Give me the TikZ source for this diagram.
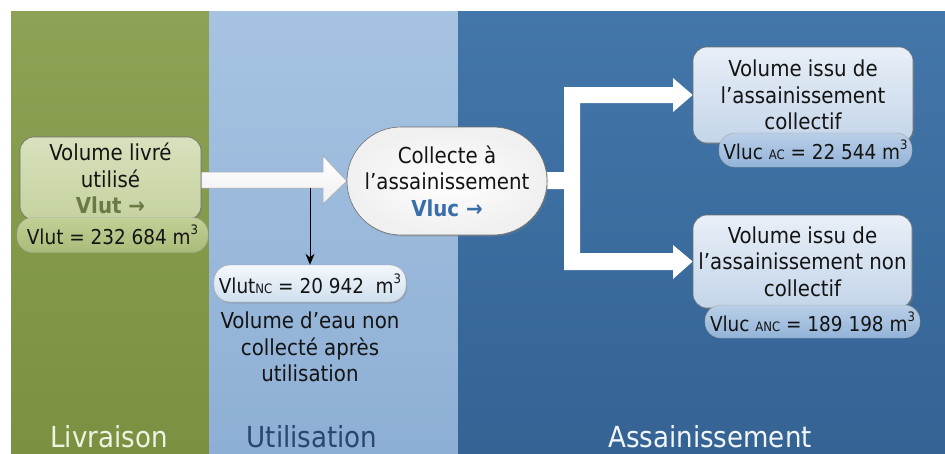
\documentclass[tikz,border=0pt]{standalone}
\usepackage{fontspec}
\setmainfont{DejaVu Sans Condensed}
\usetikzlibrary{shadows,arrows.meta,calc}

% panel colours
\definecolor{livtop}{HTML}{8DA254}
\definecolor{livbot}{HTML}{7B9141}
\definecolor{utitop}{HTML}{A6C3E1}
\definecolor{utibot}{HTML}{8EAFD5}
\definecolor{asstop}{HTML}{4376AA}
\definecolor{assbot}{HTML}{346394}
% node colours
\definecolor{ink}{HTML}{141414}
\definecolor{edge}{HTML}{6E6E6E}
\definecolor{gboxtop}{HTML}{D8E1BD}
\definecolor{gboxbot}{HTML}{C5D29F}
\definecolor{gpilltop}{HTML}{C2D095}
\definecolor{gpillbot}{HTML}{A9BB79}
\definecolor{bboxtop}{HTML}{E8EFF7}
\definecolor{bboxbot}{HTML}{C4D5E9}
\definecolor{bpilltop}{HTML}{B9CFE7}
\definecolor{bpillbot}{HTML}{93B3D8}
\definecolor{ncpilltop}{HTML}{F4F8FC}
\definecolor{ncpillbot}{HTML}{CFDFEE}
\definecolor{vlutc}{HTML}{6A7A44}
\definecolor{vlucc}{HTML}{3A6EA8}
\definecolor{livtext}{HTML}{EEF3E2}
\definecolor{utitext}{HTML}{28466F}
\definecolor{asstext}{HTML}{F2F6FA}

\newcommand\subsc[1]{{\fontsize{13}{13}\selectfont #1}}
\newcommand\mcube{\raisebox{0.5em}{\fontsize{13}{13}\selectfont 3}}

\pgfdeclarelayer{back}
\pgfdeclarelayer{mid}
\pgfsetlayers{back,mid,main}

\begin{document}
\begin{tikzpicture}[x=1pt,y=-1pt,
  txt/.style={font=\fontsize{22}{26.5}\selectfont, text=ink, align=center, inner sep=0pt},
  numtxt/.style={txt, font=\fontsize{20.5}{24}\selectfont},
  softshadow/.style={drop shadow={opacity=0.35,shadow xshift=1.2pt,shadow yshift=-1.5pt}},
  card/.style={txt, draw=edge, line width=0.6pt, rounded corners=14pt, softshadow},
  pill/.style={numtxt, draw=edge!60, line width=0.4pt, rounded corners=16pt},
  flowarrow/.style={draw=gray!70, line width=0.5pt, top color=white, bottom color=gray!12},
  band/.style={font=\fontsize{29}{32}\selectfont, anchor=base}
]
\useasboundingbox (0,0) rectangle (945,453);

% stage panels
\begin{pgfonlayer}{back}
\fill[white] (0,0) rectangle (945,453);
\shade[top color=livtop, bottom color=livbot] (11,11) rectangle (209,453);
\shade[top color=utitop, bottom color=utibot] (209,11) rectangle (458,453);
\shade[top color=asstop, bottom color=assbot] (458,11) rectangle (945,453);
\end{pgfonlayer}

\node[band, text=livtext] (lblliv) at (109,447) {Livraison};
\node[band, text=utitext] (lbluti) at (312,447) {Utilisation};
\node[band, text=asstext] (lblass) at (710,447) {Assainissement};

% delivery
\node[card, top color=gboxtop, bottom color=gboxbot,
      minimum width=181pt, minimum height=83pt] (livre) at (110.5,178.5)
  {Volume livré\\utilisé\\{\bfseries\color{vlutc}Vlut →}};
\node[pill, top color=gpilltop, bottom color=gpillbot,
      minimum width=191pt, minimum height=35pt] (vlut) at (112.5,235)
  {Vlut = 232 684 m\mcube};

% use
\node[pill, top color=ncpilltop, bottom color=ncpillbot, softshadow,
      minimum width=192pt, minimum height=37pt] (nc) at (310,283.5)
  {Vlut\subsc{NC} = 20 942\ \ m\mcube};
\node[txt] (nctext) at (310,347)
  {Volume d’eau non\\collecté après\\utilisation};

% collection
\node[txt, draw=edge, line width=0.6pt, rounded corners=54pt, softshadow,
      inner color=white, outer color=gray!12,
      minimum width=200pt, minimum height=108pt] (collecte) at (447,181)
  {Collecte à\\l’assainissement\\{\bfseries\color{vlucc}Vluc →}};

% sanitation outcomes
\node[card, top color=bboxtop, bottom color=bboxbot,
      minimum width=220pt, minimum height=96pt] (ac) at (803,95)
  {Volume issu de\\l’assainissement\\collectif};
\node[pill, top color=bpilltop, bottom color=bpillbot,
      minimum width=193pt, minimum height=34pt] (acv) at (815.5,150)
  {Vluc \subsc{AC} = 22 544 m\mcube};

\node[card, top color=bboxtop, bottom color=bboxbot,
      minimum width=219pt, minimum height=93pt] (anc) at (802.5,261.5)
  {Volume issu de\\l’assainissement non\\collectif};
\node[pill, top color=bpilltop, bottom color=bpillbot,
      minimum width=215pt, minimum height=33pt] (ancv) at (812.5,321.5)
  {Vluc \subsc{ANC} = 189 198 m\mcube};

% flows
\coordinate (drop) at (nc.north |- 0,188);
\begin{pgfonlayer}{mid}
\path[flowarrow] (195,172) -- (323,172) -- (323,156) -- (collecte.west)
  -- (323,204) -- (323,188) -- (195,188) -- cycle;
\fill[white] (540,172) -- (564,172) -- (564,87) -- (673,87) -- (673,78)
  -- (ac.west) -- (673,112) -- (673,103) -- (580,103) -- (580,253)
  -- (673,253) -- (673,245) -- (anc.west) -- (673,279) -- (673,270)
  -- (564,270) -- (564,189) -- (540,189) -- cycle;
\draw[line width=1pt, -{Stealth[length=11pt,width=9pt]}] (drop) -- (nc.north);
\end{pgfonlayer}
\end{tikzpicture}
\end{document}
